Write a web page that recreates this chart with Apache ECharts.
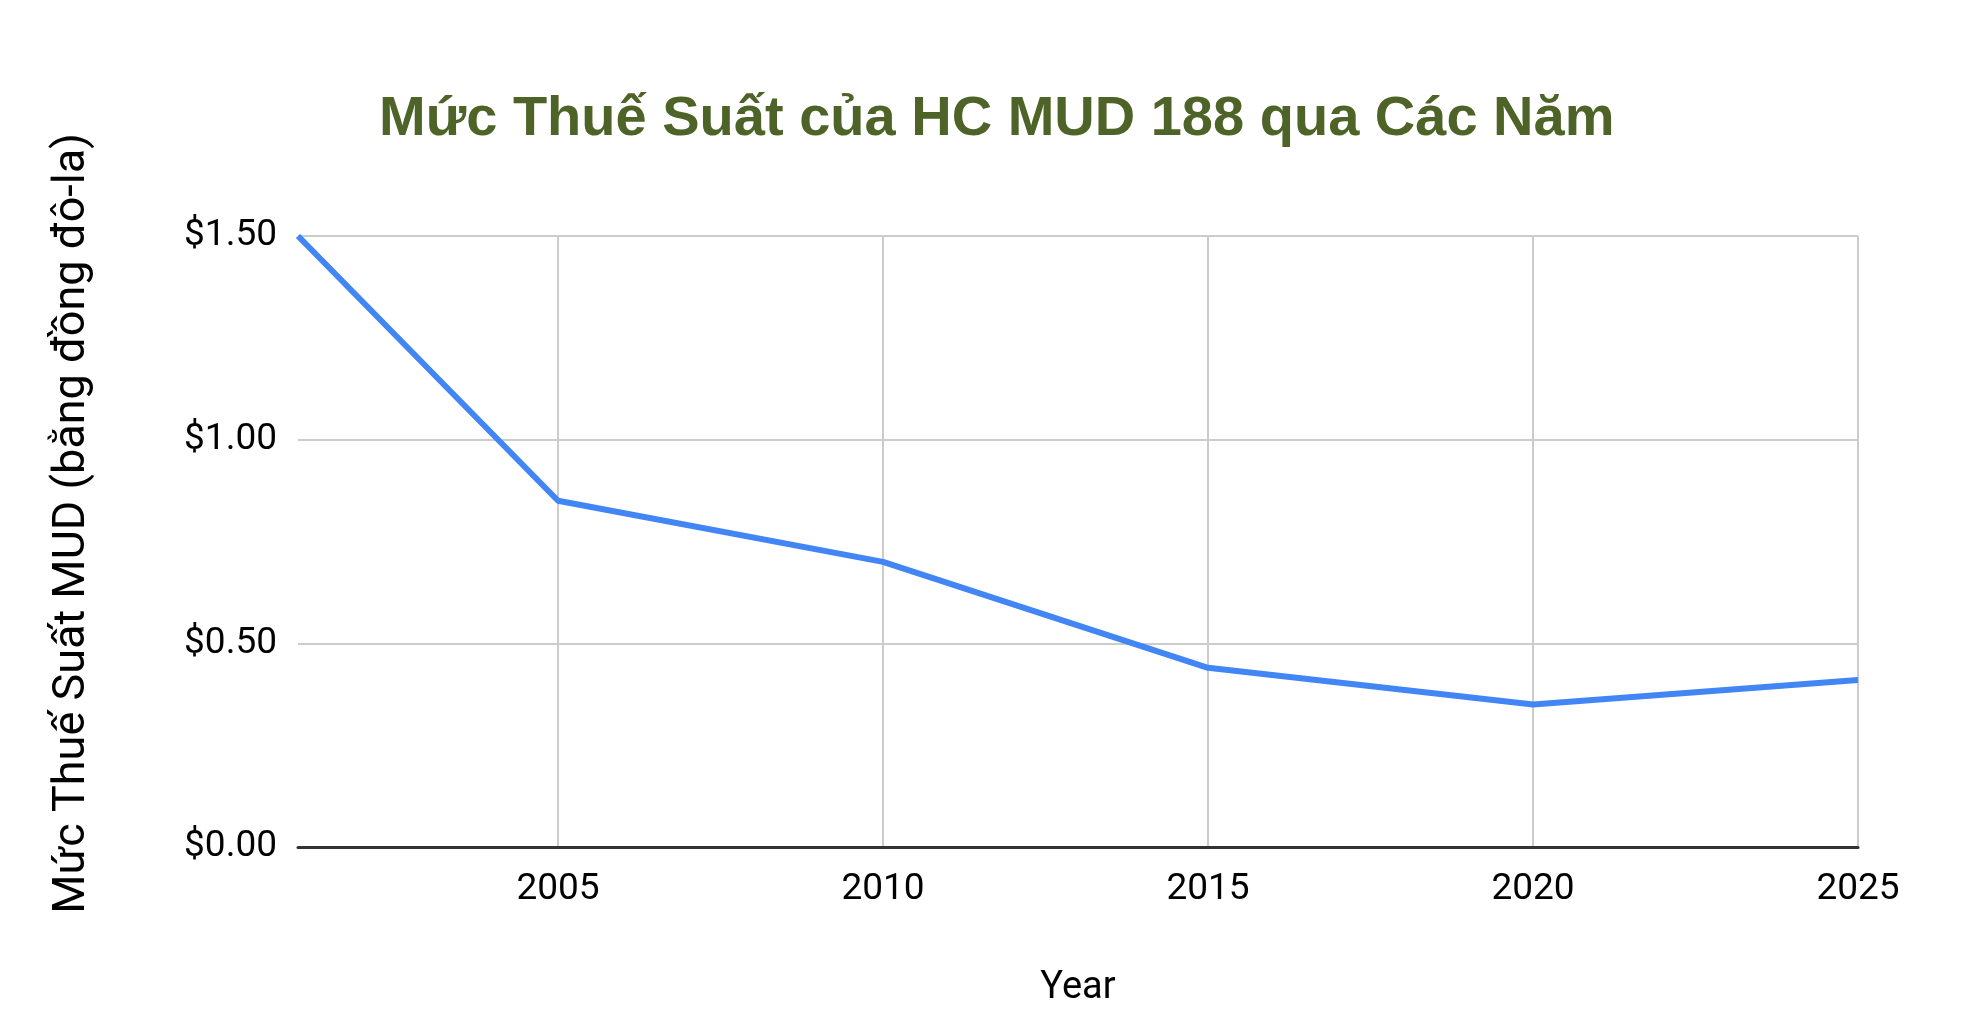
<!DOCTYPE html>
<html>
<head>
    <meta charset="utf-8">
    <title>Mức Thuế Suất của HC MUD 188 qua Các Năm</title>
    <script src="https://cdn.jsdelivr.net/npm/echarts@6/dist/echarts.min.js"></script>
    <style>
        html, body { margin: 0; padding: 0; background: #fff; }
    </style>
</head>
<body>
    <div id="main" style="width: 1966px;height:1012px;"></div>
    <script type="text/javascript">
        // số liệu
        var years = [2001, 2005, 2010, 2015, 2020, 2025];
        var rates = [1.50, 0.85, 0.70, 0.44, 0.35, 0.41];
        var yearTicks = [2005, 2010, 2015, 2020, 2025];
        var rateTicks = [0, 0.5, 1.0, 1.5];

        var points = [];
        for (var i = 0; i < years.length; i++) {
            points.push([years[i], rates[i]]);
        }

        var myChart = echarts.init(document.getElementById('main'));

        var option = {
            animation: false,
            title: {
                text: 'Mức Thuế Suất của HC MUD 188 qua Các Năm',
                left: 374,
                top: 87,
                textStyle: {
                    fontFamily: 'Liberation Sans',
                    fontWeight: 'bold',
                    fontSize: 56,
                    color: '#4e6328'
                }
            },
            grid: {
                left: 298,
                right: 108,
                top: 236,
                bottom: 159
            },
            xAxis: {
                type: 'value',
                min: years[0],
                max: yearTicks[yearTicks.length - 1],
                name: 'Year',
                nameLocation: 'middle',
                nameGap: 122,
                nameTextStyle: { fontFamily: 'Roboto', fontSize: 38, color: '#000' },
                axisLine: { show: true, lineStyle: { color: '#333', width: 3 } },
                axisTick: { show: false, customValues: yearTicks },
                axisLabel: {
                    customValues: yearTicks,
                    fontFamily: 'Roboto',
                    fontSize: 37,
                    color: '#000',
                    margin: 24,
                    formatter: function (v) { return String(v); }
                },
                splitLine: { show: true, lineStyle: { color: '#cccccc', width: 2 } }
            },
            yAxis: {
                type: 'value',
                min: rateTicks[0],
                max: rateTicks[rateTicks.length - 1],
                interval: 0.5,
                name: 'Mức Thuế Suất MUD (bằng đồng đô-la)',
                nameLocation: 'middle',
                nameRotate: 90,
                nameGap: 203,
                nameTextStyle: {
                    fontFamily: 'Roboto',
                    fontSize: 45,
                    color: '#000',
                    padding: [0, 0, 0, 36]
                },
                axisLine: { show: false },
                axisTick: { show: false },
                axisLabel: {
                    fontFamily: 'Roboto',
                    fontSize: 37,
                    color: '#000',
                    margin: 21,
                    formatter: function (v) { return '$' + v.toFixed(2); }
                },
                splitLine: { show: true, lineStyle: { color: '#cccccc', width: 2 } }
            },
            series: [
                {
                    type: 'line',
                    data: points,
                    symbol: 'none',
                    lineStyle: { color: '#4285f4', width: 6 },
                    z: 3
                }
            ]
        };
        myChart.setOption(option);
    </script>
</body>
</html>
